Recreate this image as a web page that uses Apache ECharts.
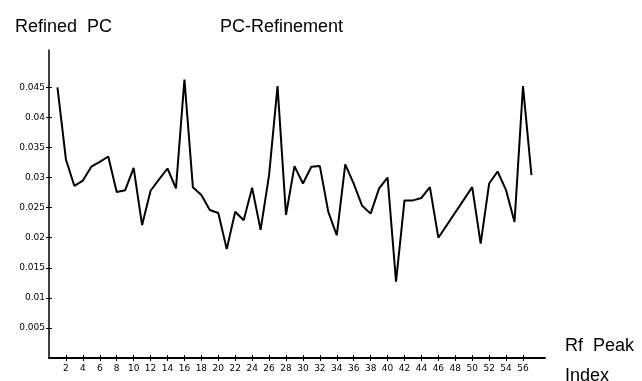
<!DOCTYPE html>
<html><head><meta charset="utf-8">
<script src="https://cdn.jsdelivr.net/npm/echarts@6/dist/echarts.min.js"></script>
<style>html,body{margin:0;padding:0;background:#fff}#c{width:642px;height:381px}</style>
</head><body><div id="c"></div>
<script>
var peakIndex = [1,2,3,4,5,6,7,8,9,10,11,12,13,14,15,16,17,18,19,20,21,22,23,24,25,26,27,28,29,30,31,32,33,34,35,36,37,38,39,40,41,42,43,44,45,46,50,51,52,53,54,55,56,57];
var refinedPC = [0.045,0.033,0.0286,0.0295,0.0318,0.0326,0.0335,0.0276,0.0279,0.0316,0.0221,0.0278,0.0297,0.0315,0.0282,0.0463,0.0284,0.0271,0.0246,0.0241,0.0181,0.0243,0.0229,0.0283,0.0213,0.0304,0.0452,0.0238,0.0319,0.029,0.0318,0.0319,0.0243,0.0204,0.0322,0.029,0.0253,0.024,0.0282,0.03,0.0127,0.0262,0.0262,0.0266,0.0284,0.02,0.0284,0.019,0.029,0.031,0.0279,0.0226,0.0452,0.0304];
var xTicks = [2,4,6,8,10,12,14,16,18,20,22,24,26,28,30,32,34,36,38,40,42,44,46,48,50,52,54,56];
var yTicks = [0.005,0.01,0.015,0.02,0.025,0.03,0.035,0.04,0.045];
var yTickLabels = ['0.005','0.01','0.015','0.02','0.025','0.03','0.035','0.04','0.045'];

var chart = echarts.init(document.getElementById('c'));
var txt = {fontFamily:'Liberation Sans', fontSize:18, color:'#000', fontWeight:'normal'};
var small = {fontFamily:'DejaVu Sans', fontSize:9, color:'#000'};
var data = peakIndex.map(function(x,i){return [x, refinedPC[i]];});
chart.setOption({
  animation:false,
  title:[
    {text:'Refined  PC', left:10, top:13, textStyle:txt},
    {text:'PC-Refinement', left:215, top:13, textStyle:txt},
    {text:'Rf  Peak', left:560, top:332, textStyle:txt},
    {text:'Index', left:560, top:362, textStyle:txt}
  ],
  grid:{left:49, right:97, top:50, bottom:23},
  xAxis:[{
    type:'value', min:0, max:58.6, position:'bottom',
    splitLine:{show:false},
    axisLine:{lineStyle:{color:'#000', width:2}},
    axisTick:{show:true, length:3, customValues:xTicks, lineStyle:{color:'#000', width:1}},
    axisLabel:{customValues:xTicks, margin:6, textStyle:small, fontFamily:'DejaVu Sans', fontSize:9, color:'#000'}
  },{
    type:'value', min:0, max:58.6, position:'bottom', offset:0,
    splitLine:{show:false},
    axisLine:{show:false},
    axisTick:{show:true, inside:true, length:3, customValues:xTicks, lineStyle:{color:'#000', width:1}},
    axisLabel:{show:false}
  }],
  yAxis:[{
    type:'value', min:0, max:0.0512, position:'left',
    splitLine:{show:false},
    axisLine:{show:true, lineStyle:{color:'#000', width:1.5}},
    axisTick:{show:true, length:3, customValues:yTicks, lineStyle:{color:'#000', width:1}},
    axisLabel:{customValues:yTicks, margin:4, fontFamily:'DejaVu Sans', fontSize:9, color:'#000',
      formatter:function(v){var i=yTicks.indexOf(v); return i>=0?yTickLabels[i]:String(v);}}
  },{
    type:'value', min:0, max:0.0512, position:'left', offset:0,
    splitLine:{show:false},
    axisLine:{show:false},
    axisTick:{show:true, inside:true, length:3, customValues:yTicks, lineStyle:{color:'#000', width:1}},
    axisLabel:{show:false}
  }],
  series:[{
    type:'line', data:data, xAxisIndex:0, yAxisIndex:0,
    symbol:'none', lineStyle:{color:'#000', width:2}
  }]
});
</script></body></html>
